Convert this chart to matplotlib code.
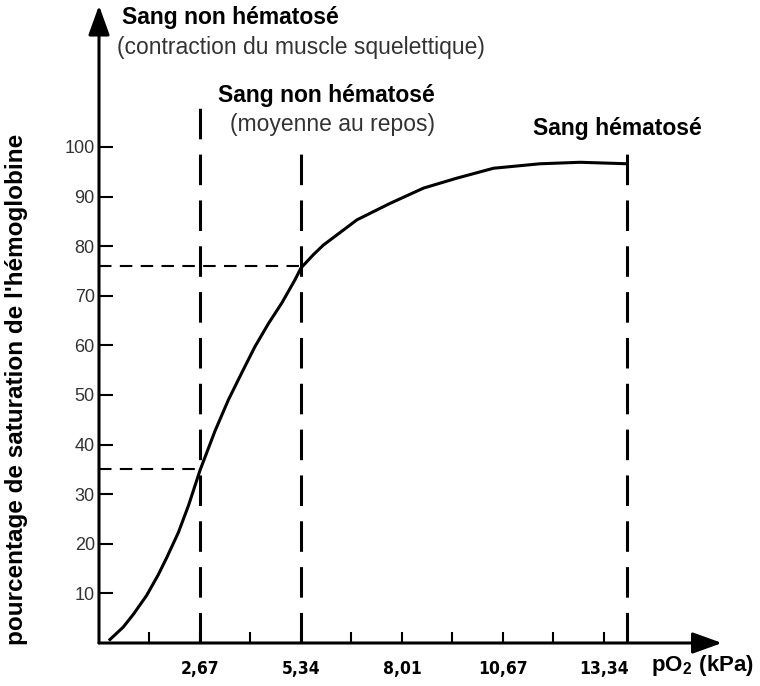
import numpy as np
import matplotlib.pyplot as plt

# courbe de dissociation de l'hémoglobine
po2 = [0.29, 0.64, 0.91, 1.26, 1.57, 1.79, 2.10, 2.37, 2.67, 3.07, 3.42, 3.77,
       4.12, 4.48, 4.83, 5.18, 5.34, 5.67, 5.93, 6.82, 7.69, 8.58, 9.46, 10.43,
       11.66, 12.72, 13.97]
sat = [0.7, 3.2, 5.8, 9.6, 13.8, 17.2, 22.3, 27.8, 34.8, 42.8, 49.0, 54.4,
       59.7, 64.4, 68.5, 73.2, 75.6, 78.3, 80.2, 85.3, 88.6, 91.7, 93.7, 95.7,
       96.6, 96.9, 96.6]

tick_pos = [1.335 * i for i in range(1, 11)]
tick_lab = ["", "2,67", "", "5,34", "", "8,01", "", "10,67", "", "13,34"]
y_ticks = [10, 20, 30, 40, 50, 60, 70, 80, 90, 100]

x_repos, y_repos = 5.34, 76
x_muscle, y_muscle = 2.67, 35
x_hemat = 13.97

plt.rcParams["mathtext.fontset"] = "custom"
plt.rcParams["mathtext.rm"] = "Liberation Sans:bold"

fig = plt.figure(figsize=(7.6, 6.86), dpi=100)
ax = fig.add_axes([99/760, 43/686, 623/760, 635/686])
ax.set_xlim(0, 16.47)
ax.set_ylim(0, 128)
for s in ax.spines.values():
    s.set_visible(False)

# axes avec flèches
ax.annotate("", xy=(16.47, 0), xytext=(0, 0),
            arrowprops=dict(arrowstyle="-|>,head_length=1.8,head_width=0.65", color="black", lw=2.2,
                            shrinkA=0, shrinkB=0), annotation_clip=False)
ax.annotate("", xy=(0, 128.5), xytext=(0, 0),
            arrowprops=dict(arrowstyle="-|>,head_length=1.8,head_width=0.65", color="black", lw=2.2,
                            shrinkA=0, shrinkB=0), annotation_clip=False)

ax.plot(po2, sat, color="black", lw=2.2)

# lignes pointillées
ax.plot([x_muscle, x_muscle], [0, 108.5], color="black", lw=2.2, dashes=(10, 5))
ax.plot([x_repos, x_repos], [0, 99.5], color="black", lw=2.2, dashes=(10, 5))
ax.plot([x_hemat, x_hemat], [0, 99], color="black", lw=2.2, dashes=(10, 5))
ax.plot([0, x_repos], [y_repos, y_repos], color="black", lw=1.5, dashes=(6, 4))
ax.plot([0, x_muscle], [y_muscle, y_muscle], color="black", lw=1.5, dashes=(6, 4))

ax.set_xticks(tick_pos)
ax.set_xticklabels(tick_lab, family="DejaVu Sans", fontstretch="condensed",
                   fontweight="bold", fontsize=12.5)
ax.set_yticks(y_ticks)
ax.set_yticklabels([str(v) for v in y_ticks], family="Liberation Sans", fontsize=13, color="#333333")
ax.tick_params(axis="x", direction="in", length=8, width=1.5, pad=12)
ax.tick_params(axis="y", direction="in", length=10, width=1.5, pad=3)

bold = dict(family="Liberation Sans", fontweight="bold", fontsize=16.5, color="black")
reg = dict(family="Liberation Sans", fontsize=16.5, color="#333333")

ax.text(0.62, 126, "Sang non hématosé", ha="left", va="center", clip_on=False, **bold)
ax.text(0.48, 120, "(contraction du muscle squelettique)", ha="left", va="center", clip_on=False, **reg)
ax.text(3.15, 110.3, "Sang non hématosé", ha="left", va="center", **bold)
ax.text(3.47, 104.5, "(moyenne au repos)", ha="left", va="center", **reg)
ax.text(11.47, 103.8, "Sang hématosé", ha="left", va="center", **bold)

ax.text(14.6, -4.5, r"$\mathrm{pO_2\ (kPa)}$", ha="left", va="center", fontsize=16, clip_on=False)

ax.set_ylabel("pourcentage de saturation de l'hémoglobine", family="Liberation Sans",
              fontweight="bold", fontsize=17.5)
ax.yaxis.set_label_coords(-0.114, 0.40)

fig.savefig("out.png", dpi=100)
